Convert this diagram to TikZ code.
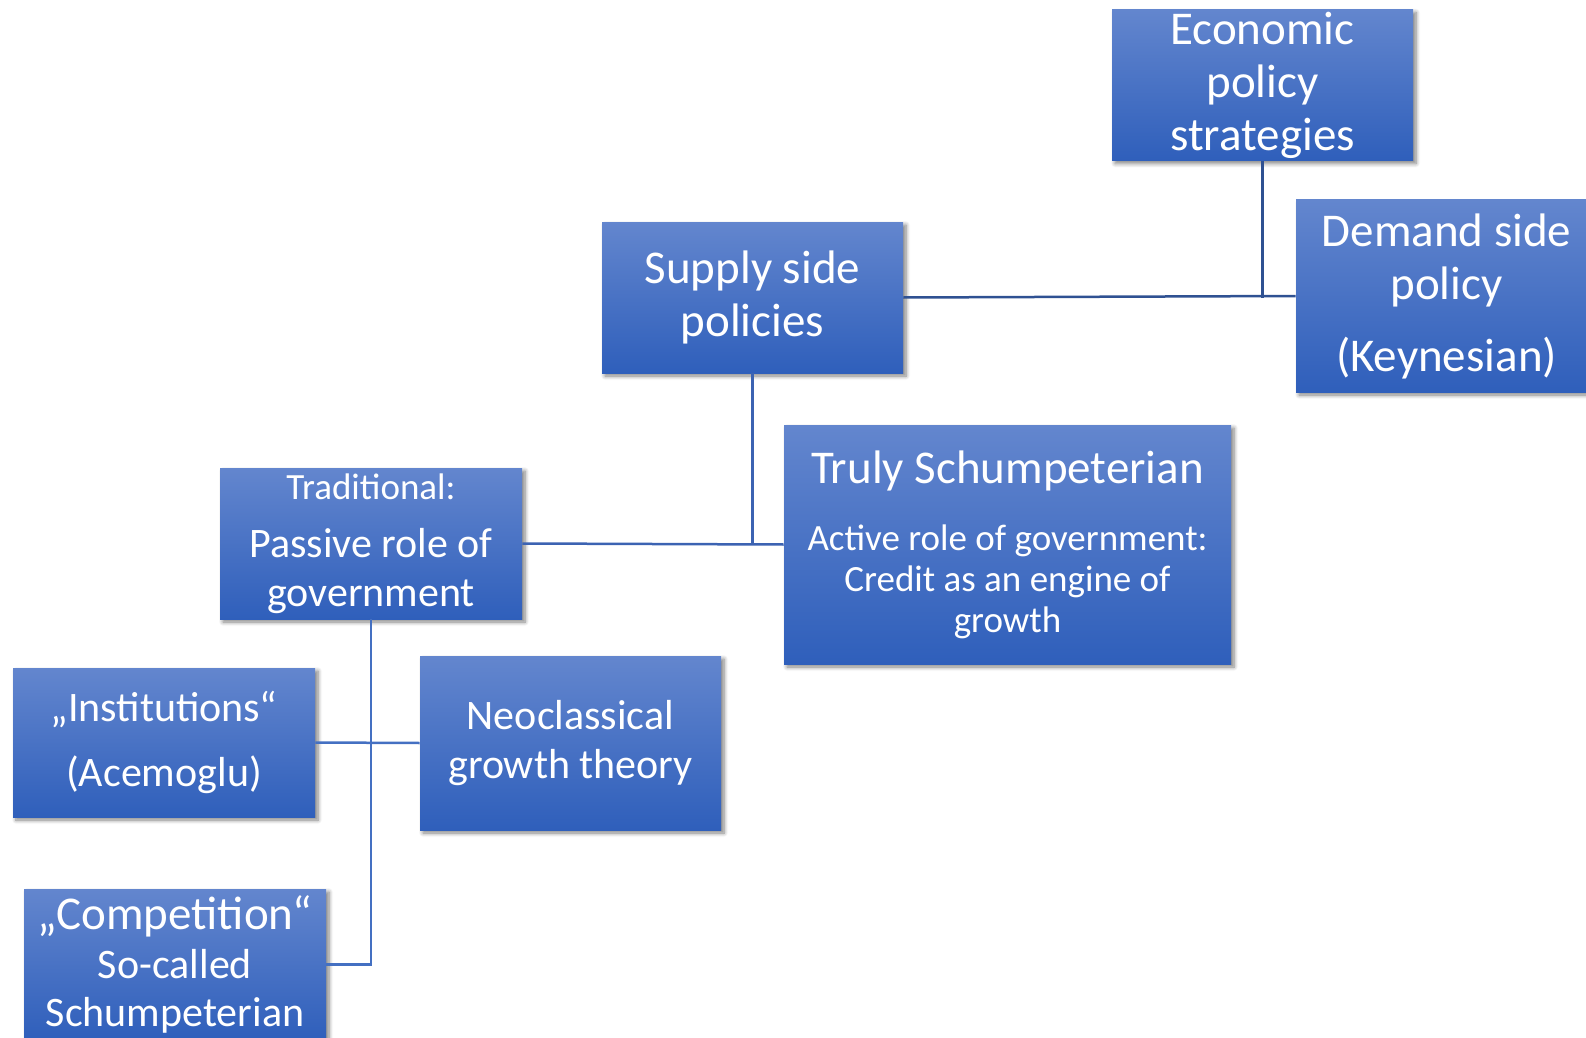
\documentclass[tikz,border=0pt]{standalone}
\usepackage{fontspec}
\setmainfont{Carlito}
\usetikzlibrary{shadows.blur}

\definecolor{boxtop}{HTML}{6386CE}
\definecolor{boxbot}{HTML}{2F5FBB}
\definecolor{linetop}{HTML}{2F5192}
\definecolor{linemid}{HTML}{3C63B2}
\definecolor{linelow}{HTML}{4470C2}

\newcommand\bigtxt{\fontsize{23.5}{26.5}\selectfont}
\newcommand\midtxt{\fontsize{21}{24.2}\selectfont}
\newcommand\smalltxt{\fontsize{18.5}{20.5}\selectfont}

\begin{document}
\begin{tikzpicture}[x=0.5pt, y=-0.5pt]
    % Define block styles
    \tikzstyle{block} = [rectangle, top color=boxtop, bottom color=boxbot, text=white, align=center, inner sep=0pt, minimum width=150.5pt, minimum height=75.5pt, blur shadow={shadow xshift=1.5pt, shadow yshift=-1.5pt, shadow blur radius=2pt, shadow blur steps=6, shadow opacity=50}]
    \tikzstyle{line} = [draw, line width=1.25pt]

    \useasboundingbox (0,0) rectangle (1586,1038);
    \clip (0,0) rectangle (1586,1038);

    % Nodes
    \node [block, font=\bigtxt] (Strategies) at (1262.5,85) {Economic\\policy\\strategies};
    \node [block, font=\bigtxt] (Supply) at (752.5,297.5) {Supply side\\policies};
    \node [block, font=\bigtxt, minimum height=96pt] (Demand) at (1446.5,296) {Demand side\\policy\\[9.5pt](Keynesian)};
    \node [block, font=\smalltxt, minimum width=223.5pt, minimum height=119.5pt] (Truly) at (1007.5,544.5)
        {{\bigtxt Truly Schumpeterian}\\[13pt]Active role of government:\\Credit as an engine of\\growth};
    \node [block, font=\midtxt, minimum width=151pt] (Passive) at (371,543.5)
        {{\smalltxt Traditional:}\\[5pt]Passive role of\\government};
    \node [block, font=\midtxt, minimum width=151pt, minimum height=74.5pt] (Institutions) at (164,742.5) {„Institutions“\\[8.5pt](Acemoglu)};
    \node [block, font=\midtxt, minimum height=87pt] (Neoclassical) at (570.5,743) {Neoclassical\\growth theory};
    \node [block, font=\midtxt, minimum width=151pt] (Competition) at (175,964.5)
        {{\bigtxt „Competition“}\\So-called\\Schumpeterian};

    % Lines
    \path [line, draw=linetop] (Strategies.south) -- (Strategies.south |- Supply.east);
    \path [line, draw=linetop] (Supply.east) -- (Demand.west);
    \path [line, draw=linemid] (Supply.south) -- (Supply.south |- Passive.east);
    \path [line, draw=linemid] (Passive.east) -- (Truly.west);
    \path [line, draw=linelow] (Passive.south) |- (Competition.east);
    \path [line, draw=linelow] (Institutions.east) -- (Neoclassical.west);

\end{tikzpicture}
\end{document}
